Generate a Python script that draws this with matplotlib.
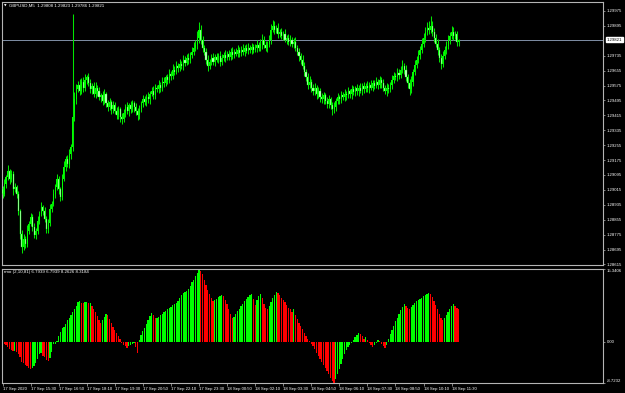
import numpy as np
import matplotlib
matplotlib.use('Agg')
import matplotlib.pyplot as plt

plt.rcParams['font.family'] = ['Liberation Sans', 'DejaVu Sans']

# ---------------- data ----------------
symbol_title = "GBPUSD,M5  1.29808 1.29823 1.29786 1.29821"
indicator_title = "rmo (2,10,81) 6.7939 6.7939 8.2626 8.3184"

first_open = 1.29020
closes = [
    1.28994, 1.29047, 1.29084, 1.29116, 1.29074, 1.29100, 1.29020, 1.29031, 1.28994, 1.28903,
    1.28780, 1.28711, 1.28754, 1.28727, 1.28796, 1.28834, 1.28871, 1.28818, 1.28775, 1.28796,
    1.28850, 1.28887, 1.28924, 1.28903, 1.28860, 1.28807, 1.28839, 1.28914, 1.28940, 1.28994,
    1.29031, 1.29074, 1.29020, 1.28978, 1.29074, 1.29138, 1.29180, 1.29154, 1.29207, 1.29244,
    1.29404, 1.29500, 1.29554, 1.29580, 1.29543, 1.29596, 1.29564, 1.29607, 1.29618, 1.29586,
    1.29554, 1.29575, 1.29527, 1.29564, 1.29543, 1.29511, 1.29522, 1.29490, 1.29527, 1.29479,
    1.29458, 1.29484, 1.29447, 1.29468, 1.29436, 1.29415, 1.29447, 1.29404, 1.29394, 1.29426,
    1.29458, 1.29436, 1.29468, 1.29447, 1.29479, 1.29458, 1.29436, 1.29415, 1.29447, 1.29479,
    1.29500, 1.29484, 1.29516, 1.29500, 1.29532, 1.29543, 1.29522, 1.29564, 1.29554, 1.29580,
    1.29564, 1.29596, 1.29586, 1.29618, 1.29607, 1.29639, 1.29628, 1.29660, 1.29650, 1.29682,
    1.29671, 1.29692, 1.29682, 1.29714, 1.29698, 1.29724, 1.29714, 1.29740, 1.29756, 1.29778,
    1.29794, 1.29831, 1.29874, 1.29820, 1.29778, 1.29756, 1.29714, 1.29682, 1.29703, 1.29724,
    1.29703, 1.29730, 1.29714, 1.29735, 1.29703, 1.29724, 1.29740, 1.29724, 1.29746, 1.29730,
    1.29756, 1.29740, 1.29756, 1.29746, 1.29767, 1.29751, 1.29767, 1.29756, 1.29778, 1.29762,
    1.29778, 1.29767, 1.29783, 1.29767, 1.29778, 1.29794, 1.29778, 1.29799, 1.29820, 1.29794,
    1.29778, 1.29799, 1.29820, 1.29874, 1.29895, 1.29874, 1.29884, 1.29852, 1.29863, 1.29842,
    1.29852, 1.29820, 1.29831, 1.29810, 1.29820, 1.29799, 1.29810, 1.29778, 1.29756, 1.29735,
    1.29714, 1.29682, 1.29650, 1.29618, 1.29580, 1.29596, 1.29564, 1.29543, 1.29564, 1.29527,
    1.29543, 1.29511, 1.29500, 1.29522, 1.29490, 1.29474, 1.29500, 1.29468, 1.29447, 1.29458,
    1.29490, 1.29511, 1.29500, 1.29522, 1.29511, 1.29532, 1.29522, 1.29543, 1.29527, 1.29554,
    1.29538, 1.29559, 1.29543, 1.29564, 1.29548, 1.29570, 1.29554, 1.29575, 1.29559, 1.29580,
    1.29564, 1.29586, 1.29575, 1.29596, 1.29580, 1.29602, 1.29586, 1.29564, 1.29543, 1.29564,
    1.29554, 1.29580, 1.29607, 1.29628, 1.29618, 1.29644, 1.29634, 1.29660, 1.29682, 1.29660,
    1.29618, 1.29586, 1.29554, 1.29596, 1.29650, 1.29687, 1.29714, 1.29740, 1.29767, 1.29799,
    1.29831, 1.29863, 1.29884, 1.29874, 1.29895, 1.29863, 1.29831, 1.29799, 1.29767, 1.29724,
    1.29692, 1.29735, 1.29767, 1.29788, 1.29820, 1.29842, 1.29863, 1.29842, 1.29852, 1.29808,
    1.29821,
]
# wick lengths in points (1e-5)
upper_wick_pts = [
    18, 25, 12, 30, 10, 22, 15, 20, 9, 14,
    12, 20, 24, 14, 28, 16, 22, 12, 18, 15,
    24, 16, 28, 12, 20, 14, 22, 26, 16, 24,
    14, 28, 18, 12, 24, 30, 16, 22, 26, 18,
    555, 40, 28, 20, 32, 18, 24, 30, 16, 22,
    26, 14, 20, 28, 16, 24, 12, 22, 30, 14,
    18, 24, 14, 22, 16, 26, 18, 12, 22, 24,
    16, 28, 14, 22, 18, 12, 24, 16, 22, 14,
    26, 18, 16, 24, 14, 22, 28, 18, 16, 24,
    14, 22, 26, 16, 18, 24, 14, 28, 18, 22,
    16, 24, 14, 26, 18, 22, 28, 16, 24, 30,
    26, 36, 42, 24, 18, 14, 22, 26, 16, 18,
    24, 14, 22, 16, 26, 18, 14, 24, 16, 22,
    18, 26, 14, 22, 24, 16, 18, 28, 14, 22,
    24, 16, 22, 14, 18, 26, 16, 24, 30, 18,
    22, 16, 28, 32, 32, 24, 18, 28, 16, 22,
    18, 24, 14, 22, 26, 16, 18, 24, 14, 22,
    16, 24, 18, 14, 22, 28, 16, 18, 24, 14,
    22, 16, 26, 18, 14, 24, 22, 16, 18, 28,
    16, 22, 14, 24, 18, 26, 16, 22, 14, 24,
    18, 16, 24, 14, 22, 18, 26, 16, 22, 14,
    24, 18, 16, 22, 14, 26, 18, 24, 16, 22,
    18, 14, 24, 22, 16, 26, 18, 22, 30, 16,
    24, 18, 22, 28, 16, 24, 18, 26, 22, 30,
    24, 28, 32, 36, 53, 28, 22, 18, 24, 16,
    22, 26, 18, 24, 28, 22, 30, 24, 18, 15,
    2,
]
lower_wick_pts = [
    22, 14, 20, 16, 26, 18, 30, 14, 20, 24,
    28, 37, 18, 22, 16, 20, 14, 26, 18, 22,
    16, 20, 14, 24, 18, 22, 26, 16, 20, 14,
    22, 18, 26, 20, 16, 14, 22, 18, 20, 26,
    22, 18, 24, 14, 20, 16, 26, 18, 22, 14,
    20, 24, 16, 18, 22, 14, 26, 20, 16, 22,
    18, 14, 24, 20, 16, 22, 18, 26, 28, 16,
    20, 14, 22, 18, 16, 24, 20, 26, 18, 14,
    22, 16, 20, 18, 24, 14, 20, 22, 16, 18,
    24, 16, 20, 14, 22, 18, 26, 16, 20, 14,
    22, 18, 16, 24, 20, 14, 22, 18, 16, 20,
    18, 22, 26, 20, 24, 18, 22, 28, 16, 20,
    18, 22, 14, 20, 24, 16, 18, 22, 14, 20,
    16, 22, 18, 14, 20, 24, 16, 18, 22, 14,
    20, 16, 24, 18, 14, 22, 20, 16, 26, 18,
    16, 22, 18, 20, 14, 24, 18, 22, 16, 20,
    22, 14, 20, 18, 24, 16, 22, 18, 20, 26,
    22, 18, 24, 20, 26, 16, 22, 20, 18, 24,
    18, 22, 20, 26, 16, 22, 18, 20, 32, 22,
    20, 16, 22, 18, 14, 20, 24, 16, 18, 22,
    16, 20, 18, 22, 14, 24, 18, 16, 20, 22,
    14, 20, 18, 16, 24, 18, 22, 20, 16, 26,
    20, 16, 22, 18, 14, 20, 24, 18, 16, 22,
    20, 26, 30, 18, 22, 16, 20, 18, 24, 16,
    20, 22, 18, 24, 16, 20, 22, 18, 26, 22,
    30, 20, 18, 22, 16, 20, 18, 24, 16, 22,
    22,
]
rmo_hist = [
    -0.2, -0.5, -0.8, -1.2, -1.5, -1.7, -2.0, -1.9, -2.2, -2.5,
    -3.2, -4.2, -4.5, -4.9, -5.2, -5.5, -5.7, -5.5, -5.1, -4.5,
    -3.6, -2.6, -2.4, -3.1, -3.3, -3.8, -4.1, -3.4, -2.1, -0.5,
    -0.4, 0.2, 1.1, 2.0, 2.8, 3.2, 3.8, 4.5, 5.0, 5.6,
    6.3, 7.0, 7.6, 8.3, 8.5, 8.2, 8.1, 8.3, 8.3, 8.1,
    8.1, 7.6, 7.0, 6.2, 5.4, 4.6, 4.0, 4.6, 5.3, 5.9,
    5.6, 4.8, 3.9, 3.1, 2.5, 1.8, 1.2, 0.5, -0.2, -0.6,
    -0.9, -1.4, -1.0, -0.6, -0.4, -0.2, -1.2, -2.3, 0.4, 1.5,
    2.3, 2.9, 3.7, 4.6, 5.4, 6.1, 5.7, 4.9, 5.0, 5.3,
    5.6, 5.9, 6.2, 6.5, 6.8, 7.1, 7.4, 7.7, 7.9, 8.2,
    8.6, 9.2, 9.8, 10.3, 10.4, 10.6, 11.2, 11.8, 12.5, 13.1,
    13.8, 14.6, 15.3406, 15.0, 14.2, 13.0, 12.0, 11.0, 10.0, 9.2,
    8.5, 8.7, 9.0, 9.4, 9.7, 9.9, 9.6, 8.8, 7.9, 6.8,
    5.8, 4.9, 5.2, 5.8, 6.4, 7.0, 7.5, 8.0, 8.5, 9.0,
    9.4, 9.8, 10.0, 9.0, 7.8, 8.8, 9.6, 10.0, 9.2, 8.0,
    7.2, 6.8, 7.5, 8.4, 9.2, 9.8, 10.4, 10.2, 9.8, 9.3,
    8.8, 8.3, 7.7, 7.2, 6.8, 6.3, 6.8, 5.7, 4.8, 3.9,
    3.3, 2.6, 1.9, 1.2, 0.6, 0.1, -0.4, -1.0, -1.6, -2.3,
    -3.0, -3.7, -4.3, -5.0, -5.6, -6.2, -6.9, -7.6, -8.2, -8.7232,
    -7.8, -6.8, -5.8, -4.7, -3.6, -2.6, -1.8, -1.1, -0.6, -0.2,
    0.4, 1.0, 1.5, 1.9, 1.6, 1.1, 0.6, 0.9, 0.4, -0.3,
    -0.8, -1.1, -0.6, -0.2, 0.3, 0.1, -0.4, -1.0, -1.4, -0.6,
    0.5, 1.6, 2.5, 3.4, 4.3, 5.1, 5.9, 6.6, 7.4, 8.0,
    7.6, 7.1, 6.9, 7.3, 7.8, 8.2, 8.5, 8.8, 9.0, 9.3,
    9.6, 9.9, 10.1, 10.3, 10.0, 9.4, 8.6, 7.8, 6.8, 5.9,
    5.0, 4.5, 4.9, 5.6, 6.3, 7.0, 7.6, 8.0, 7.6, 7.1,
    6.7939,
]
time_labels = ["17 Sep 2020", "17 Sep 15:30", "17 Sep 16:50", "17 Sep 18:10",
               "17 Sep 19:30", "17 Sep 20:50", "17 Sep 22:10", "17 Sep 23:30",
               "18 Sep 00:50", "18 Sep 02:10", "18 Sep 03:30", "18 Sep 04:50",
               "18 Sep 06:10", "18 Sep 07:30", "18 Sep 08:50", "18 Sep 10:10",
               "18 Sep 11:30"]
bars_per_label = 16
price_ticks = [1.29975, 1.29895, 1.29735, 1.29655, 1.29575, 1.29495, 1.29415,
               1.29335, 1.29255, 1.29175, 1.29095, 1.29015, 1.28935, 1.28855,
               1.28775, 1.28695, 1.28615]
last_price = 1.29821
rmo_ticks = [15.3406, 0.0, -8.7232]
rmo_tick_labels = ["15.3406", "0.00", "-8.7232"]

# ---------------- figure ----------------
W, H = 625, 393
fig = plt.figure(figsize=(W / 100, H / 100), dpi=100, facecolor='black')

def px_axes(left, top, right, bottom):
    return fig.add_axes([left / W, 1 - bottom / H, (right - left) / W, (bottom - top) / H])

ax = px_axes(2, 2, 603, 265)
ax2 = px_axes(2, 269, 603, 383)

n = len(closes)
idx = np.arange(n)
c = np.array(closes)
o = np.array([first_open] + closes[:-1])
hi = np.maximum(o, c) + np.array(upper_wick_pts) * 1e-5
lo = np.minimum(o, c) - np.array(lower_wick_pts) * 1e-5

spine_col = '#b4b4b4'
for a in (ax, ax2):
    a.set_facecolor('black')
    for s in a.spines.values():
        s.set_color(spine_col)
        s.set_linewidth(0.8)
    a.yaxis.tick_right()
    a.tick_params(axis='y', colors=spine_col, labelcolor='white', length=1.6,
                  width=0.5, direction='out', pad=1.2, labelsize=3.1)
    a.set_xlim(-0.3, 342.3)

# price line
ax.axhline(last_price, color='#7f8fa6', lw=0.7, zorder=1)

# candles
ax.vlines(idx, lo, hi, color='#00e600', lw=0.75, zorder=2)
bull = c >= o
body_b = np.minimum(o, c)
body_h = np.maximum(np.abs(c - o), 1.5e-5)
ax.bar(idx[bull], body_h[bull], bottom=body_b[bull], width=0.62,
       color='#00ff00', lw=0, zorder=3)
ax.bar(idx[~bull], body_h[~bull], bottom=body_b[~bull], width=0.62,
       color='#d0ffd0', edgecolor='#00ff00', lw=0.25, zorder=3)

ax.set_ylim(1.28612, 1.30023)
ax.set_yticks(price_ticks)
ax.set_yticklabels([f"{v:.5f}" for v in price_ticks])
ax.set_xticks([])

ax.annotate(f"{last_price:.5f}", xy=(1, last_price), xycoords=('axes fraction', 'data'),
            xytext=(2.6, 0), textcoords='offset points', ha='left', va='center',
            fontsize=3.1, color='black',
            bbox=dict(boxstyle='square,pad=0.18', fc='white', ec='white'))

ax.annotate("\u25bc", xy=(0, 1), xycoords='axes fraction', xytext=(1.2, -2.3),
            textcoords='offset points', ha='left', va='center', fontsize=2.4,
            color='white', family=['DejaVu Sans'])
ax.annotate(symbol_title, xy=(0, 1), xycoords='axes fraction', xytext=(5.0, -2.3),
            textcoords='offset points', ha='left', va='center', fontsize=3.2,
            color='white')

# indicator histogram
h = np.array(rmo_hist)
rising = np.diff(h, prepend=0.0) >= 0
cols = np.where(rising, '#00ff00', '#ff0000')
ax2.bar(idx, h, width=0.72, color=cols, lw=0)
ax2.set_ylim(rmo_ticks[2], rmo_ticks[0])
ax2.set_yticks(rmo_ticks)
ax2.set_yticklabels(rmo_tick_labels)
yl = ax2.get_yticklabels()
yl[0].set_va('top')
yl[2].set_va('bottom')

ax2.annotate(indicator_title, xy=(0, 1), xycoords='axes fraction', xytext=(1.5, -2.4),
             textcoords='offset points', ha='left', va='center', fontsize=3.2,
             color='white')

xt = [k * bars_per_label for k in range(len(time_labels))]
ax2.set_xticks(xt)
ax2.set_xticklabels(time_labels)
ax2.tick_params(axis='x', colors=spine_col, labelcolor='white', length=2,
                width=0.5, direction='out', pad=1.0, labelsize=3.1)
for lbl in ax2.get_xticklabels():
    lbl.set_ha('left')

fig.savefig('out.png', dpi=100, facecolor='black')
